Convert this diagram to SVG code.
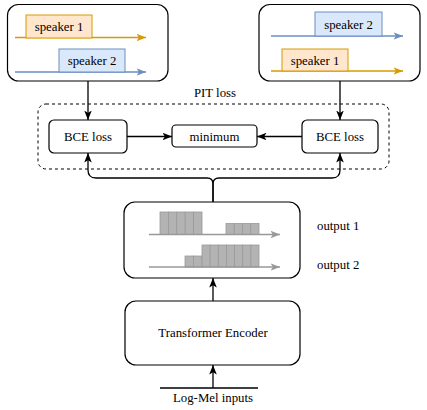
<svg xmlns="http://www.w3.org/2000/svg" width="427" height="410" viewBox="0 0 427 410">
<style>
text{font-family:"Liberation Serif","Times New Roman",serif;font-size:12.8px;fill:#000}
.c{text-anchor:middle}
.box{fill:#fff;stroke:#000;stroke-width:1.2}
.or{fill:#ffe6cc;stroke:#d79b00;stroke-width:1}
.bl{fill:#dae8fc;stroke:#6c8ebf;stroke-width:1}
.ol{stroke:#d79b00;stroke-width:1.3;fill:none}
.blt{stroke:#6c8ebf;stroke-width:1.3;fill:none}
.k{stroke:#000;stroke-width:1.3;fill:none}
.g{stroke:#999;stroke-width:1.3;fill:none}
.bar{fill:#b3b3b3;stroke:#999;stroke-width:0.8}
</style>
<defs>
<marker id="ak" viewBox="0 0 10 8" refX="10" refY="4" markerWidth="9.5" markerHeight="7.6" markerUnits="userSpaceOnUse" orient="auto"><path d="M0,0 L10,4 L0,8 L2.5,4 z" fill="#000"/></marker>
<marker id="ao" viewBox="0 0 10 8" refX="10" refY="4" markerWidth="9.5" markerHeight="7.6" markerUnits="userSpaceOnUse" orient="auto"><path d="M0,0 L10,4 L0,8 L2.5,4 z" fill="#d79b00"/></marker>
<marker id="ab" viewBox="0 0 10 8" refX="10" refY="4" markerWidth="9.5" markerHeight="7.6" markerUnits="userSpaceOnUse" orient="auto"><path d="M0,0 L10,4 L0,8 L2.5,4 z" fill="#6c8ebf"/></marker>
<marker id="ag" viewBox="0 0 10 8" refX="10" refY="4" markerWidth="9.5" markerHeight="7.6" markerUnits="userSpaceOnUse" orient="auto"><path d="M0,0 L10,4 L0,8 L2.5,4 z" fill="#999"/></marker>
</defs>

<g id="pit-loss">
<rect x="38" y="104" width="351" height="65" rx="8" fill="none" stroke="#000" stroke-width="1" stroke-dasharray="3,3"/>
<text class="c" x="215" y="97">PIT loss</text>
</g>

<g id="perm-left">
<rect class="box" x="7.5" y="4.5" width="160.5" height="76.5" rx="11"/>
<path class="ol" d="M15,37.5 H146" marker-end="url(#ao)"/>
<rect class="or" x="26" y="15" width="66" height="23"/>
<text class="c" x="59" y="31">speaker 1</text>
<path class="blt" d="M15,72 H146" marker-end="url(#ab)"/>
<rect class="bl" x="59" y="49" width="66" height="23"/>
<text class="c" x="92" y="65">speaker 2</text>
</g>

<g id="perm-right">
<rect class="box" x="259" y="4.5" width="161" height="76.5" rx="11"/>
<path class="blt" d="M271,36 H403" marker-end="url(#ab)"/>
<rect class="bl" x="315" y="12" width="67" height="24"/>
<text class="c" x="348.5" y="28.5">speaker 2</text>
<path class="ol" d="M271,71 H403" marker-end="url(#ao)"/>
<rect class="or" x="282" y="49" width="66" height="22"/>
<text class="c" x="315" y="64.5">speaker 1</text>
</g>

<g id="bce-left">
<rect class="box" x="49" y="120" width="78" height="33" rx="5"/>
<text class="c" x="88" y="141">BCE loss</text>
</g>
<g id="minimum">
<rect class="box" x="172" y="125" width="85" height="22" rx="4"/>
<text class="c" x="214.5" y="141">minimum</text>
</g>
<g id="bce-right">
<rect class="box" x="302" y="120" width="76" height="33" rx="5"/>
<text class="c" x="340" y="141">BCE loss</text>
</g>

<g id="outputs">
<rect class="box" x="124" y="202" width="176" height="76" rx="11"/>
<rect class="bar" x="160" y="212" width="8.4" height="22.5"/>
<rect class="bar" x="168.4" y="212" width="8.4" height="22.5"/>
<rect class="bar" x="176.8" y="212" width="8.4" height="22.5"/>
<rect class="bar" x="185.2" y="212" width="8.4" height="22.5"/>
<rect class="bar" x="193.6" y="212" width="8.4" height="22.5"/>
<rect class="bar" x="226" y="223.5" width="8.25" height="11"/>
<rect class="bar" x="234.25" y="223.5" width="8.25" height="11"/>
<rect class="bar" x="242.5" y="223.5" width="8.25" height="11"/>
<rect class="bar" x="250.75" y="223.5" width="8.25" height="11"/>
<path class="g" d="M149,234.5 H280" marker-end="url(#ag)"/>
<rect class="bar" x="185" y="256" width="8.5" height="11"/>
<rect class="bar" x="193.5" y="256" width="8.5" height="11"/>
<rect class="bar" x="202" y="245" width="8.15" height="22"/>
<rect class="bar" x="210.15" y="245" width="8.15" height="22"/>
<rect class="bar" x="218.3" y="245" width="8.15" height="22"/>
<rect class="bar" x="226.45" y="245" width="8.15" height="22"/>
<rect class="bar" x="234.6" y="245" width="8.15" height="22"/>
<rect class="bar" x="242.75" y="245" width="8.15" height="22"/>
<rect class="bar" x="250.9" y="245" width="8.1" height="22"/>
<path class="g" d="M149,267 H280" marker-end="url(#ag)"/>
<text x="317" y="229.5">output 1</text>
<text x="317" y="268.5">output 2</text>
</g>

<g id="encoder">
<rect class="box" x="125" y="301" width="175" height="64" rx="11"/>
<text class="c" x="213" y="337">Transformer Encoder</text>
</g>

<g id="input">
<path class="k" d="M160,388 H258"/>
<text class="c" x="213" y="402">Log-Mel inputs</text>
</g>

<g id="connectors">
<path class="k" d="M88,81 V120" marker-end="url(#ak)"/>
<path class="k" d="M340,81 V120" marker-end="url(#ak)"/>
<path class="k" d="M127,136.5 H172" marker-end="url(#ak)"/>
<path class="k" d="M302,136.5 H257" marker-end="url(#ak)"/>
<path class="k" d="M213,202 V184 Q213,178 207,178 H96 Q88,178 88,170 V153" marker-end="url(#ak)"/>
<path class="k" d="M213,202 V184 Q213,178 219,178 H332 Q340,178 340,170 V153" marker-end="url(#ak)"/>
<path class="k" d="M213,301 V278" marker-end="url(#ak)"/>
<path class="k" d="M213,388 V365" marker-end="url(#ak)"/>
</g>
</svg>
